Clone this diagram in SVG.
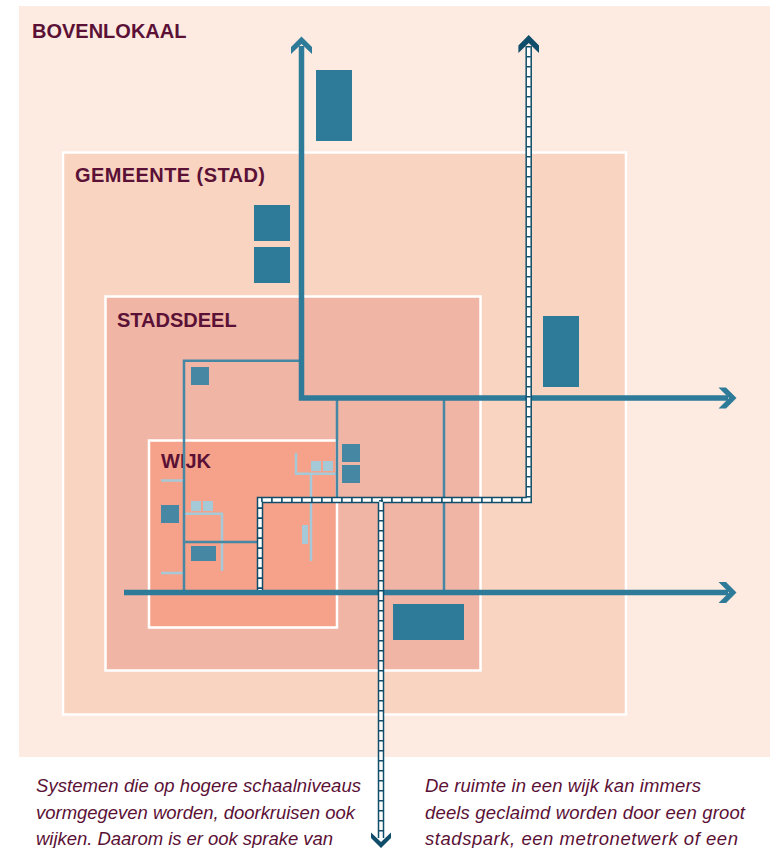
<svg xmlns="http://www.w3.org/2000/svg" width="776" height="848" viewBox="0 0 776 848">
<defs>
<style>
.lvl{stroke:#ffffff;stroke-width:2.5}
.hd{font-family:"Liberation Sans",Arial,sans-serif;font-weight:bold;font-size:20px;fill:#5b1136}
.cap{font-family:"Liberation Sans",Arial,sans-serif;font-style:italic;font-size:18.5px;fill:#5b1136}
.big{fill:#2e7a99}
.sm{fill:#4687a3}
.lt{fill:#a5c9d6}
.thin{fill:none;stroke:#4687a3;stroke-width:2.5}
.ltl{fill:none;stroke:#a5c9d6;stroke-width:2.5}
.main{fill:none;stroke:#2e7a99;stroke-width:5.5}
.head{fill:#2e7a99}
.dhead{fill:#0f4d6b}
.lad-o{fill:none;stroke:#0f4d6b;stroke-width:6.5;stroke-linejoin:miter}
.lad-i{fill:none;stroke:#ffffff;stroke-width:3.5;stroke-linejoin:miter}
.lad-t{fill:none;stroke:#0f4d6b;stroke-width:4;stroke-dasharray:1.6 8.4}
</style>
</defs>
<rect x="0" y="0" width="776" height="848" fill="#ffffff"/>
<g id="bovenlokaal">
<rect x="19" y="6" width="751" height="751" fill="#fdeae0"/>
<text class="hd" x="32" y="37.5">BOVENLOKAAL</text>
</g>
<g id="gemeente">
<rect class="lvl" x="63" y="152.5" width="563" height="562" fill="#f9d4c1"/>
<text class="hd" x="75" y="181.5" textLength="190">GEMEENTE (STAD)</text>
</g>
<g id="stadsdeel">
<rect class="lvl" x="105.5" y="296.5" width="375" height="374" fill="#f0b5a5"/>
<text class="hd" x="117" y="327">STADSDEEL</text>
</g>
<g id="wijk">
<rect class="lvl" x="149" y="440.5" width="188" height="187" fill="#f6a28a"/>
<text class="hd" x="161" y="468">WIJK</text>
</g>
<g id="blocks">
<rect class="big" x="316" y="70" width="36" height="71"/>
<rect class="big" x="254" y="205" width="36" height="36"/>
<rect class="big" x="254" y="247" width="36" height="36"/>
<rect class="big" x="543" y="316" width="36" height="71"/>
<rect class="big" x="393" y="604" width="71" height="36"/>
<rect class="sm" x="191" y="367" width="18" height="18"/>
<rect class="sm" x="342" y="444" width="18" height="18"/>
<rect class="sm" x="342" y="465" width="18" height="18"/>
<rect class="sm" x="161" y="505" width="18" height="18"/>
<rect class="sm" x="191" y="546" width="25" height="15"/>
<rect class="lt" x="191" y="501" width="10" height="10"/>
<rect class="lt" x="203" y="501" width="10" height="10"/>
<rect class="lt" x="311" y="461" width="10" height="10"/>
<rect class="lt" x="323" y="461" width="10" height="10"/>
<rect class="lt" x="302" y="525" width="6" height="19"/>
</g>
<g id="connectors">
<path class="ltl" d="M161 480.5H183 M161 573H183 M184 513.8H222V571 M296 453V473.7H337 M311 473.7V561"/>
<path class="thin" d="M184 592V360.7H302 M337 398V499 M444 398V592 M184 542H259"/>
<path class="main" d="M301.5 46V398H728"/>
<polygon class="head" points="301.5,36.5 312,47 312,54 301.5,44 291,54 291,47"/>
<polygon class="head" points="736.5,398 726,387.5 718.5,387.5 729,398 718.5,408.5 726,408.5"/>
<path class="main" d="M124 592.5H728"/>
<polygon class="head" points="736.5,592.5 726,582 718.5,582 729,592.5 718.5,603 726,603"/>
<path class="lad-o" d="M528.7 46V500H260V590 M381 500V838"/>
<path class="lad-i" d="M528.7 46V500H260V590 M381 500V838"/>
<path class="lad-t" d="M528.7 46V500H260V590 M381 500V838"/>
<polygon class="dhead" points="528.7,35 539,45.5 539,53 528.7,43 518.4,53 518.4,45.5"/>
<polygon class="dhead" points="381,848 391,838 391,832.5 381,842 371,832.5 371,838"/>
</g>
<g id="captions">
<text class="cap" x="36" y="792" textLength="325">Systemen die op hogere schaalniveaus</text>
<text class="cap" x="36" y="818.5" textLength="319">vormgegeven worden, doorkruisen ook</text>
<text class="cap" x="36" y="845" textLength="297">wijken. Daarom is er ook sprake van</text>
<text class="cap" x="425" y="792" textLength="276">De ruimte in een wijk kan immers</text>
<text class="cap" x="425" y="818.5" textLength="320">deels geclaimd worden door een groot</text>
<text class="cap" x="425" y="845" textLength="313">stadspark, een metronetwerk of een</text>
</g>
</svg>
